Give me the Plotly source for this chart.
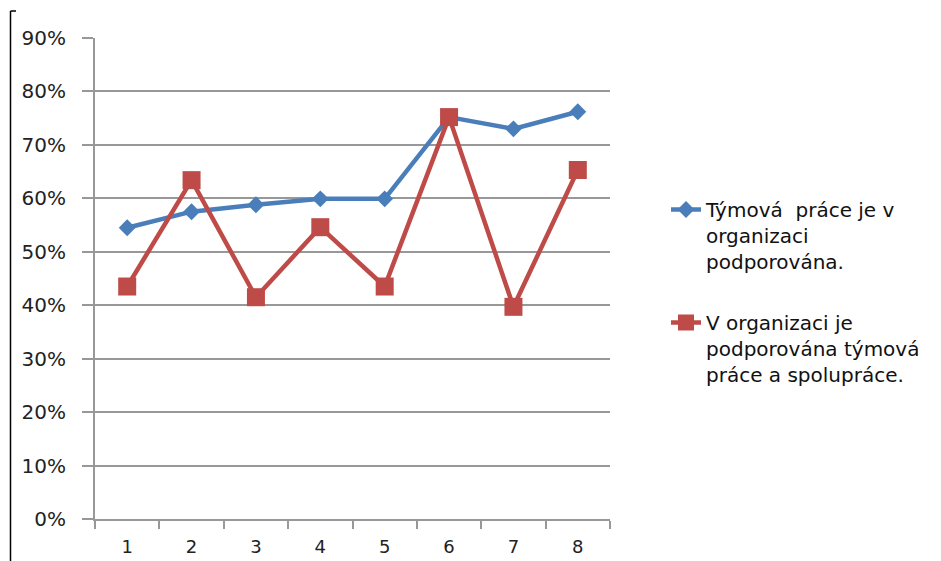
import plotly.graph_objects as go

# Survey items 1..8 and share of agreement for two statements
categories = ["1", "2", "3", "4", "5", "6", "7", "8"]
team_work_supported = [0.545, 0.575, 0.588, 0.599, 0.599, 0.752, 0.730, 0.762]
team_and_cooperation = [0.435, 0.634, 0.415, 0.546, 0.435, 0.752, 0.397, 0.653]
y_ticks = [0, 0.1, 0.2, 0.3, 0.4, 0.5, 0.6, 0.7, 0.8, 0.9]

name_blue = "Týmová\u00a0 práce je v<br>organizaci<br>podporována."
name_red = "V organizaci je<br>podporována týmová<br>práce a spolupráce."

BLUE = "#4a7ebb"
RED = "#be4b48"
GRID = "#989898"
FONT = "DejaVu Sans"

fig = go.Figure()
fig.add_trace(go.Scatter(
    x=categories, y=team_work_supported, name=name_blue, mode="lines+markers",
    legendgroup="a",
    line=dict(color=BLUE, width=4.5),
    marker=dict(symbol="diamond", size=13, color=BLUE),
))
fig.add_trace(go.Scatter(
    x=categories, y=team_and_cooperation, name=name_red, mode="lines+markers",
    legendgroup="b",
    line=dict(color=RED, width=4.5),
    marker=dict(symbol="square", size=18, color=RED),
))

W, H = 941, 561
L, R, T, B = 95, 331, 38, 42
pw = W - L - R
ph = H - T - B

def px_x(x):
    return (x - L) / pw

def px_y(y):
    return (H - B - y) / ph

fig.update_layout(
    width=W, height=H,
    margin=dict(l=L, r=R, t=T, b=B, autoexpand=False),
    paper_bgcolor="white", plot_bgcolor="white",
    font=dict(family=FONT, size=20, color="#222222"),
    showlegend=True,
    legend=dict(
        x=px_x(666), y=px_y(190), xanchor="left", yanchor="top",
        font=dict(family=FONT, size=20, color="#111111"),
        valign="top", tracegroupgap=32, itemwidth=30,
        bgcolor="rgba(0,0,0,0)",
    ),
    xaxis=dict(
        type="category", range=[-0.5, 7.5], tickson="boundaries",
        ticks="outside", ticklen=8, tickwidth=2, tickcolor=GRID,
        showline=True, linecolor=GRID, linewidth=2, showgrid=False,
        tickfont=dict(family=FONT, size=18, color="#222222"),
        ticklabelstandoff=10, zeroline=False, automargin=False,
    ),
    yaxis=dict(
        range=[0, 0.9], tickvals=y_ticks, tickformat=".0%",
        ticks="outside", ticklen=11, tickwidth=2, tickcolor=GRID,
        showline=True, linecolor=GRID, linewidth=2,
        showgrid=True, gridcolor=GRID, gridwidth=2,
        tickfont=dict(family=FONT, size=20, color="#222222"),
        ticklabelstandoff=12, zeroline=False, automargin=False,
    ),
)

# Frame edge on the left side of the chart
fig.add_shape(type="line", xref="paper", yref="paper",
              x0=px_x(10.5), x1=px_x(10.5), y0=px_y(11), y1=px_y(561),
              line=dict(color="black", width=1.5))
fig.add_shape(type="line", xref="paper", yref="paper",
              x0=px_x(10.5), x1=px_x(16), y0=px_y(11), y1=px_y(11),
              line=dict(color="black", width=1.5))

fig.write_html("out.html")
